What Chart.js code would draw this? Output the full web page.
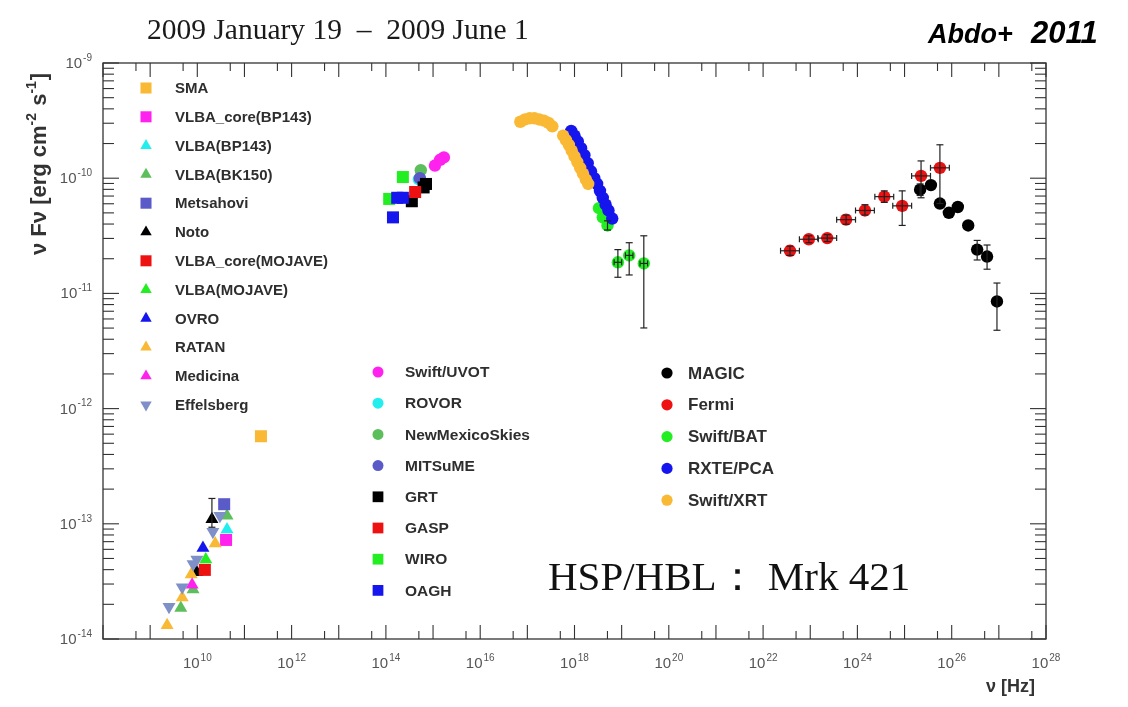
<!DOCTYPE html>
<html><head><meta charset="utf-8">
<script src="https://cdn.jsdelivr.net/npm/chart.js@4/dist/chart.umd.min.js"></script>
<style>html,body{margin:0;padding:0;background:#fff}#wrap{width:1128px;height:707px}</style>
</head><body><div id="wrap"><canvas id="c" width="1128" height="707"></canvas></div>
<script>
// Each point: [log10 ν (Hz), log10 νFν, (log10 lower), (log10 upper), (x half-width, dex)]
const SMA = [[11.35,-12.24]];
const VLBA_CORE_BP143 = [[10.61,-13.14]];
const VLBA_BP143 = [[10.63,-13.05]];
const VLBA_BK150 = [[9.65,-13.73],[9.91,-13.57],[10.63,-12.93]];
const METSAHOVI = [[10.57,-12.83]];
const NOTO = [[9.99,-13.42],[10.31,-12.96,-13.03,-12.78]];
const VLBA_CORE_MOJAVE = [[10.16,-13.40]];
const VLBA_MOJAVE = [[10.18,-13.31]];
const OVRO = [[10.12,-13.21]];
const RATAN = [[9.36,-13.88],[9.68,-13.64],[9.87,-13.44],[10.38,-13.17]];
const MEDICINA = [[9.89,-13.53]];
const EFFELSBERG = [[9.40,-13.72],[9.68,-13.55],[9.91,-13.35],[9.99,-13.31],[10.33,-13.07],[10.48,-12.93]];

const SWIFT_UVOT = [[15.04,-9.89],[15.15,-9.84],[15.23,-9.82]];
const ROVOR = [[14.70,-10.01]];
const NEWMEXICOSKIES = [[14.74,-9.93]];
const MITSUME = [[14.72,-10.00]];
const GRT = [[14.55,-10.20],[14.80,-10.08],[14.85,-10.05]];
const GASP = [[14.62,-10.12]];
const WIRO = [[14.07,-10.18],[14.36,-9.99]];
const OAGH = [[14.15,-10.34],[14.24,-10.17],[14.36,-10.17]];

const MAGIC = [[25.33,-10.10,-10.15,-10.05],[25.56,-10.06],[25.75,-10.22],[25.94,-10.30],[26.13,-10.25],
  [26.35,-10.41],[26.54,-10.62,-10.71,-10.54],[26.75,-10.68,-10.79,-10.58],[26.96,-11.07,-11.32,-10.91]];
const FERMI = [[22.57,-10.63,-10.67,-10.59,0.2],[22.97,-10.53,-10.56,-10.50,0.2],[23.36,-10.52,-10.55,-10.49,0.2],
  [23.76,-10.36,-10.40,-10.32,0.2],[24.16,-10.28,-10.32,-10.23,0.2],[24.57,-10.16,-10.21,-10.11,0.2],
  [24.95,-10.24,-10.41,-10.11,0.2],[25.35,-9.98,-10.17,-9.85,0.2],[25.75,-9.91,-10.22,-9.71,0.2]];
const SWIFT_BAT = [[18.52,-10.26],[18.60,-10.34],[18.70,-10.41,-10.45,-10.37],
  [18.92,-10.73,-10.86,-10.62,0.08],[19.16,-10.67,-10.84,-10.56,0.08],[19.47,-10.74,-11.30,-10.50,0.08]];
const RXTE_PCA = [[17.93,-9.59],[18.00,-9.63],[18.07,-9.68],[18.14,-9.74],[18.21,-9.80],[18.28,-9.87],
  [18.35,-9.94],[18.42,-10.00],[18.48,-10.05],[18.54,-10.11],[18.60,-10.17],[18.66,-10.23],[18.72,-10.28],[18.80,-10.35]];
const SWIFT_XRT = [[16.85,-9.51],[16.95,-9.49],[17.05,-9.48],[17.15,-9.48],[17.25,-9.49],[17.35,-9.50],[17.45,-9.52],[17.53,-9.55],
  [17.76,-9.63],[17.82,-9.67],[17.88,-9.71],[17.94,-9.76],[18.00,-9.81],[18.06,-9.86],[18.12,-9.91],[18.18,-9.96],[18.24,-10.01],[18.29,-10.05]];

// Axis decades (tick labels 10^n)
const X_DECADES = [8,9,10,11,12,13,14,15,16,17,18,19,20,21,22,23,24,25,26,27,28];
const X_LABELS = [10,12,14,16,18,20,22,24,26,28];
const Y_DECADES = [-14,-13,-12,-11,-10,-9];

const SERIES = [
  // label, data, marker, colour, legend column
  ['SMA', SMA, 'rect', '#f9b934', 0],
  ['VLBA_core(BP143)', VLBA_CORE_BP143, 'rect', '#ff22ee', 0],
  ['VLBA(BP143)', VLBA_BP143, 'triangle', '#22eeee', 0],
  ['VLBA(BK150)', VLBA_BK150, 'triangle', '#5cbf5c', 0],
  ['Metsahovi', METSAHOVI, 'rect', '#5a5ac8', 0],
  ['Noto', NOTO, 'triangle', '#000000', 0],
  ['VLBA_core(MOJAVE)', VLBA_CORE_MOJAVE, 'rect', '#ee1111', 0],
  ['VLBA(MOJAVE)', VLBA_MOJAVE, 'triangle', '#22ee22', 0],
  ['OVRO', OVRO, 'triangle', '#1515ee', 0],
  ['RATAN', RATAN, 'triangle', '#f9b934', 0],
  ['Medicina', MEDICINA, 'triangle', '#ff22ee', 0],
  ['Effelsberg', EFFELSBERG, 'down', '#7f90c8', 0],
  ['Swift/UVOT', SWIFT_UVOT, 'circle', '#ff22ee', 1],
  ['ROVOR', ROVOR, 'circle', '#22eeee', 1],
  ['NewMexicoSkies', NEWMEXICOSKIES, 'circle', '#5cbf5c', 1],
  ['MITSuME', MITSUME, 'circle', '#5a5ac8', 1],
  ['GRT', GRT, 'rect', '#000000', 1],
  ['GASP', GASP, 'rect', '#ee1111', 1],
  ['WIRO', WIRO, 'rect', '#22ee22', 1],
  ['OAGH', OAGH, 'rect', '#1515ee', 1],
  ['MAGIC', MAGIC, 'circle', '#000000', 2],
  ['Fermi', FERMI, 'circle', '#ee1111', 2],
  ['Swift/BAT', SWIFT_BAT, 'circle', '#22ee22', 2],
  ['RXTE/PCA', RXTE_PCA, 'circle', '#1515ee', 2],
  ['Swift/XRT', SWIFT_XRT, 'circle', '#f9b934', 2]
];

const toPoint = p => {
  const o = {x: 10 ** p[0], y: 10 ** p[1]};
  if (p.length > 2 && p[2] != null) { o.yLo = 10 ** p[2]; o.yHi = 10 ** p[3]; }
  if (p.length > 4) { o.xLo = 10 ** (p[0] - p[4]); o.xHi = 10 ** (p[0] + p[4]); }
  return o;
};
const RADII = {rect: 8.5, triangle: 7.5, down: 7.5, circle: 6.2};
const FONT = '"Liberation Sans", Arial, sans-serif';

const datasets = SERIES.map(([label, data, style, color, col], i) => ({
  label, data: data.map(toPoint),
  pointStyle: style === 'down' ? 'triangle' : style,
  rotation: style === 'down' ? 180 : 0,
  pointRadius: RADII[style], pointHoverRadius: RADII[style],
  backgroundColor: color, borderColor: color, borderWidth: 0,
  showLine: false, legendCol: col, order: 30 - i
}));

// draws "10" followed by a raised exponent
function drawPow(ctx, exp, x, y, align, size) {
  const es = Math.round(size * 0.68);
  ctx.font = size + 'px ' + FONT; const w1 = ctx.measureText('10').width;
  ctx.font = es + 'px ' + FONT; const w2 = ctx.measureText(String(exp)).width;
  const total = w1 + 1 + w2;
  const start = align === 'right' ? x - total : x - total / 2;
  ctx.textAlign = 'left'; ctx.textBaseline = 'alphabetic';
  ctx.font = size + 'px ' + FONT; ctx.fillText('10', start, y);
  ctx.font = es + 'px ' + FONT; ctx.fillText(String(exp), start + w1 + 1, y - size * 0.48);
}

const frameTicks = {
  id: 'frameTicks',
  afterDraw(chart) {
    const {ctx, chartArea: a, scales: {x, y}} = chart;
    ctx.save();
    ctx.strokeStyle = '#333'; ctx.lineWidth = 1.3;
    ctx.strokeRect(a.left, a.top, a.right - a.left, a.bottom - a.top);
    ctx.lineWidth = 1.1;
    const seg = (x1, y1, x2, y2) => { ctx.beginPath(); ctx.moveTo(x1, y1); ctx.lineTo(x2, y2); ctx.stroke(); };
    X_DECADES.forEach(e => {
      const p = x.getPixelForValue(10 ** e);
      seg(p, a.bottom, p, a.bottom - 14); seg(p, a.top, p, a.top + 14);
      if (e > X_DECADES[0]) {
        const q = x.getPixelForValue(5 * 10 ** (e - 1));
        seg(q, a.bottom, q, a.bottom - 8); seg(q, a.top, q, a.top + 8);
      }
    });
    Y_DECADES.forEach(e => {
      const p = y.getPixelForValue(10 ** e);
      seg(a.left, p, a.left + 16, p); seg(a.right, p, a.right - 16, p);
      if (e < Y_DECADES[Y_DECADES.length - 1]) {
        for (let m = 2; m <= 9; m++) {
          const q = y.getPixelForValue(m * 10 ** e);
          seg(a.left, q, a.left + 11, q); seg(a.right, q, a.right - 11, q);
        }
      }
    });
    // tick labels
    ctx.fillStyle = '#555';
    X_LABELS.forEach(e => drawPow(ctx, e, x.getPixelForValue(10 ** e), a.bottom + 29, 'center', 15));
    Y_DECADES.forEach(e => drawPow(ctx, e, a.left - 11, y.getPixelForValue(10 ** e) + 5, 'right', 15));
    // axis titles
    ctx.fillStyle = '#333';
    ctx.font = 'bold 18px ' + FONT; ctx.textAlign = 'right'; ctx.textBaseline = 'alphabetic';
    ctx.fillText('ν [Hz]', a.right - 11, a.bottom + 53);
    ctx.translate(46, a.top + 192); ctx.rotate(-Math.PI / 2);
    const parts = [['ν Fν [erg cm', 0], ['-2', 1], [' s', 0], ['-1', 1], [']', 0]];
    let cx = 0; ctx.textAlign = 'left';
    parts.forEach(([t, s]) => {
      ctx.font = (s ? 'bold 14px ' : 'bold 22px ') + FONT;
      ctx.fillText(t, cx, s ? -10 : 0);
      cx += ctx.measureText(t).width + (s ? 1 : 0);
    });
    ctx.restore();
  }
};

const errorBars = {
  id: 'errorBars',
  afterDatasetsDraw(chart) {
    const {ctx, scales: {x, y}} = chart;
    ctx.save(); ctx.strokeStyle = '#222'; ctx.lineWidth = 1.2;
    const seg = (x1, y1, x2, y2) => { ctx.beginPath(); ctx.moveTo(x1, y1); ctx.lineTo(x2, y2); ctx.stroke(); };
    chart.data.datasets.forEach(ds => ds.data.forEach(p => {
      const px = x.getPixelForValue(p.x), py = y.getPixelForValue(p.y);
      if (p.yLo != null) {
        const a = y.getPixelForValue(p.yLo), b = y.getPixelForValue(p.yHi);
        seg(px, a, px, b); seg(px - 3.5, a, px + 3.5, a); seg(px - 3.5, b, px + 3.5, b);
      }
      if (p.xLo != null) {
        const a = x.getPixelForValue(p.xLo), b = x.getPixelForValue(p.xHi);
        seg(a, py, b, py); seg(a, py - 3, a, py + 3); seg(b, py - 3, b, py + 3);
      }
    }));
    ctx.restore();
  }
};

const LEGEND_COLS = [
  {mx: 43, tx: 72, y0: 25, dy: 28.8, fs: 15, r: {rect: 7.8, triangle: 6.6, down: 6.6, circle: 5.2}},
  {mx: 275, tx: 302, y0: 309, dy: 31.2, fs: 15.5, r: {rect: 7.6, triangle: 6.4, down: 6.4, circle: 5.5}},
  {mx: 564, tx: 585, y0: 310, dy: 31.8, fs: 17, r: {rect: 7.6, triangle: 6.4, down: 6.4, circle: 5.6}}
];
const legendPlugin = {
  id: 'inLegend',
  afterDraw(chart) {
    const {ctx, chartArea: a} = chart;
    ctx.save();
    const rows = [0, 0, 0];
    chart.data.datasets.forEach(ds => {
      const c = LEGEND_COLS[ds.legendCol];
      const yy = a.top + c.y0 + rows[ds.legendCol]++ * c.dy;
      const styleKey = ds.rotation ? 'down' : ds.pointStyle;
      ctx.fillStyle = ds.backgroundColor; ctx.strokeStyle = ds.backgroundColor;
      Chart.helpers.drawPoint(ctx, {pointStyle: ds.pointStyle, radius: c.r[styleKey], rotation: ds.rotation, borderWidth: 0}, a.left + c.mx, yy);
      ctx.fillStyle = '#2e2e2e';
      ctx.font = 'bold ' + c.fs + 'px ' + FONT;
      ctx.textBaseline = 'middle'; ctx.textAlign = 'left';
      ctx.fillText(ds.label, a.left + c.tx, yy + 1);
    });
    ctx.restore();
  }
};

const textPlugin = {
  id: 'texts',
  afterDraw(chart) {
    const {ctx} = chart;
    ctx.save();
    ctx.fillStyle = '#1a1a1a'; ctx.textBaseline = 'alphabetic'; ctx.textAlign = 'left';
    ctx.font = '29.5px "Liberation Serif", "Times New Roman", serif';
    ctx.fillText('2009 January 19  \u2013  2009 June 1', 147, 39);
    ctx.fillStyle = '#000';
    ctx.font = 'italic bold 27px ' + FONT;
    ctx.fillText('Abdo+', 928, 43);
    ctx.font = 'italic 900 31px ' + FONT;
    ctx.fillText('2011', 1031, 43);
    ctx.fillStyle = '#111';
    ctx.font = '41px "Liberation Serif", "Times New Roman", serif';
    ctx.fillText('HSP/HBL\uFF1A Mrk 421', 548, 590);
    ctx.restore();
  }
};

new Chart(document.getElementById('c'), {
  type: 'scatter',
  data: {datasets},
  options: {
    responsive: false, animation: false, devicePixelRatio: 1,
    layout: {padding: {top: 63, right: 82, left: 0, bottom: 0}},
    plugins: {legend: {display: false}, tooltip: {enabled: false}, title: {display: false}},
    scales: {
      x: {
        type: 'logarithmic', min: 1e8, max: 1e28, position: 'bottom',
        afterBuildTicks: s => { s.ticks = X_LABELS.map(e => ({value: 10 ** e})); },
        afterFit: s => { s.height = 68; },
        grid: {display: false, drawTicks: false}, border: {display: false},
        ticks: {display: false}
      },
      y: {
        type: 'logarithmic', min: 1e-14, max: 1e-9, position: 'left',
        afterBuildTicks: s => { s.ticks = Y_DECADES.map(e => ({value: 10 ** e})); },
        afterFit: s => { s.width = 103; },
        grid: {display: false, drawTicks: false}, border: {display: false},
        ticks: {display: false}
      }
    }
  },
  plugins: [frameTicks, errorBars, legendPlugin, textPlugin]
});
</script></body></html>
